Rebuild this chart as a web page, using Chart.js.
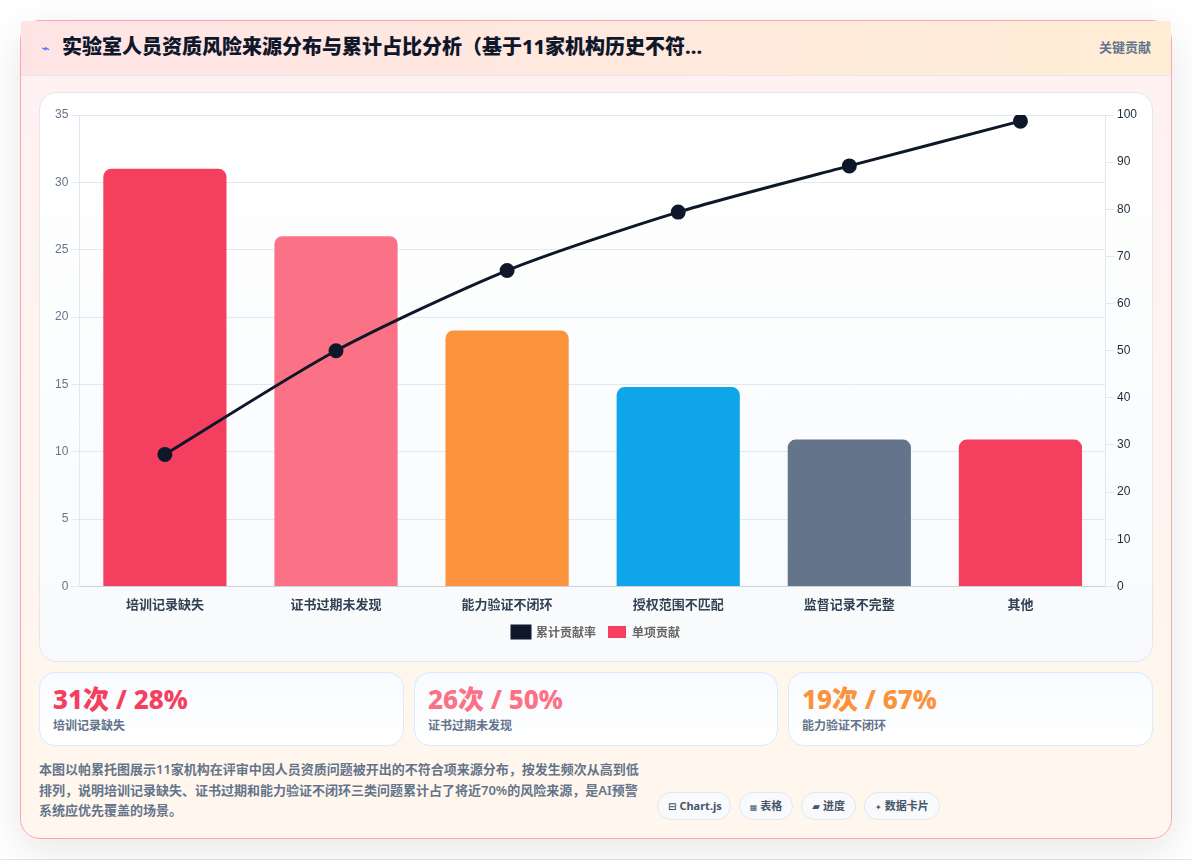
<!DOCTYPE html>
<html lang="zh-CN">
<head>
<meta charset="utf-8">
<title>实验室人员资质风险来源分布与累计占比分析</title>
<script src="https://cdn.jsdelivr.net/npm/chart.js@4"></script>
<style>
* { box-sizing: border-box; }
html, body { margin: 0; height: 860px; overflow: hidden; background: #fff; }
body { font-family: "Noto Sans", "Noto Sans CJK SC", sans-serif; border-bottom: 1px solid #e5e7eb; }
.card {
  position: absolute; left: 20px; top: 20px; width: 1152px; height: 819px;
  border: 1px solid #fda4af; border-radius: 20px;
  background: linear-gradient(180deg, #fff1f2 0%, #fff7ed 100%);
  box-shadow: 0 12px 40px rgba(15, 23, 42, .10);
}
.head {
  position: absolute; left: 0; top: 0; width: 1150px; height: 55px;
  background: linear-gradient(90deg, #ffe4e6, #ffedd5);
  border-bottom: 1px solid #e2e8f0;
}
.head .icon { position: absolute; left: 20px; top: 17px; font: 14px/20px "DejaVu Sans"; color: #4f6ef7; }
.head h1 {
  position: absolute; left: 41px; top: 12px; margin: 0;
  font-size: 20px; line-height: 28px; font-weight: 800; color: #0f172a; white-space: nowrap;
}
.head .tag { position: absolute; right: 20px; top: 16px; font-size: 13px; line-height: 20px; font-weight: 600; color: #64748b; }
.panel {
  position: absolute; left: 18px; top: 71px; width: 1114px; height: 570px;
  border: 1px solid #e2e8f0; border-radius: 18px;
  background: linear-gradient(180deg, #fff, #f8fafc);
}
.panel canvas { position: absolute; left: 0; top: 0; }
.stat {
  position: absolute; top: 651px; height: 74px;
  border: 1px solid #dbeafe; border-radius: 16px;
  background: linear-gradient(180deg, #f8fbff, #fff);
}
.stat b { position: absolute; left: 13px; top: 7px; font-size: 26px; line-height: 38px; font-weight: 800; white-space: nowrap; }
.stat span { position: absolute; left: 13px; top: 44px; font-size: 12px; line-height: 18px; font-weight: 600; color: #64748b; }
.note {
  position: absolute; left: 18px; top: 738px; width: 604px; margin: 0;
  font-size: 13px; line-height: 20.5px; font-weight: 600; color: #64748b;
}
.pills { position: absolute; left: 636px; top: 771px; display: flex; gap: 8px; }
.pills span {
  height: 28px; padding: 0 10px; border: 1px solid #e2e8f0; border-radius: 14px;
  background: #f8fafc; font-size: 11px; line-height: 26px; font-weight: 700; color: #475569; white-space: nowrap;
}
.pills span:first-child { padding-right: 8px; }
.pills i { font: normal bold 8px "DejaVu Sans"; margin-right: 3px; }
.pills i.wide { font-size: 10px; }
</style>
</head>
<body>
<div class="card">
  <div class="head">
    <span class="icon">⌁</span>
    <h1>实验室人员资质风险来源分布与累计占比分析（基于11家机构历史不符...</h1>
    <span class="tag">关键贡献</span>
  </div>
  <div class="panel"><canvas id="pareto" width="1112" height="568"></canvas></div>
  <div id="stats"></div>
  <p class="note">本图以帕累托图展示11家机构在评审中因人员资质问题被开出的不符合项来源分布，按发生频次从高到低排列，说明培训记录缺失、证书过期和能力验证不闭环三类问题累计占了将近70%的风险来源，是AI预警系统应优先覆盖的场景。</p>
  <div class="pills">
    <span><i class="wide">⊟</i>Chart.js</span><span><i>▦</i>表格</span><span><i class="wide">▰</i>进度</span><span><i>✦</i>数据卡片</span>
  </div>
</div>
<script>
const categories = ["培训记录缺失", "证书过期未发现", "能力验证不闭环", "授权范围不匹配", "监督记录不完整", "其他"];
const counts = [31, 26, 19, 14.8, 10.9, 10.9];
const cumulative = [28, 50, 67, 79.4, 89.2, 98.7];
const barColors = ["#f43f5e", "#fb7185", "#fb923c", "#0ea5e9", "#64748b", "#f43f5e"];
const leftTicks = [0, 5, 10, 15, 20, 25, 30, 35];
const rightTicks = [0, 10, 20, 30, 40, 50, 60, 70, 80, 90, 100];
const statCount = ["31次", "26次", "19次"];
const statShare = ["28%", "50%", "67%"];

// three summary cards under the chart
const statsEl = document.getElementById("stats");
statCount.forEach((c, i) => {
  const d = document.createElement("div");
  d.className = "stat";
  d.style.left = [18, 393, 767][i] + "px";
  d.style.width = (i == 1 ? 364 : 365) + "px";
  d.innerHTML = `<b style="color:${barColors[i]}">${c} / ${statShare[i]}</b><span>${categories[i]}</span>`;
  statsEl.appendChild(d);
});

Chart.defaults.animation = false;

new Chart(document.getElementById("pareto").getContext("2d"), {
  data: {
    labels: categories,
    datasets: [
      {
        type: "line",
        label: "累计贡献率",
        data: cumulative,
        yAxisID: "y1",
        borderColor: "#0f172a",
        backgroundColor: "#0f172a",
        borderWidth: 3,
        tension: 0.25,
        pointRadius: 6,
        pointHoverRadius: 6
      },
      {
        type: "bar",
        label: "单项贡献",
        data: counts,
        yAxisID: "y",
        backgroundColor: barColors,
        borderRadius: 8,
        borderSkipped: "bottom",
        categoryPercentage: 0.72,
        barPercentage: 1
      }
    ]
  },
  options: {
    responsive: false,
    layout: { padding: { left: 12, right: 12, top: 22, bottom: 13 } },
    plugins: {
      legend: {
        position: "bottom",
        labels: {
          boxWidth: 18,
          boxHeight: 12,
          padding: 12,
          color: "#666",
          font: { size: 12, weight: "600", family: "'Noto Sans CJK SC'" }
        }
      }
    },
    scales: {
      x: {
        grid: { display: false },
        border: { color: "#cbd5e1" },
        ticks: { padding: 2, color: "#334155", font: { size: 13, weight: "700", family: "'Noto Sans CJK SC'" } }
      },
      y: {
        min: 0,
        max: 35,
        afterBuildTicks: (axis) => { axis.ticks = leftTicks.map((v) => ({ value: v })); },
        grid: { color: "#e2e8f0" },
        border: { color: "#e2e8f0" },
        ticks: { color: "#64748b", font: { size: 12, family: "'Liberation Sans'" } }
      },
      y1: {
        position: "right",
        min: 0,
        max: 100,
        afterBuildTicks: (axis) => { axis.ticks = rightTicks.map((v) => ({ value: v })); },
        grid: { drawOnChartArea: false, color: "#e2e8f0" },
        border: { color: "#e2e8f0" },
        ticks: { color: "#1e293b", font: { size: 12, family: "'Liberation Sans'" } }
      }
    }
  }
});
</script>
</body>
</html>
